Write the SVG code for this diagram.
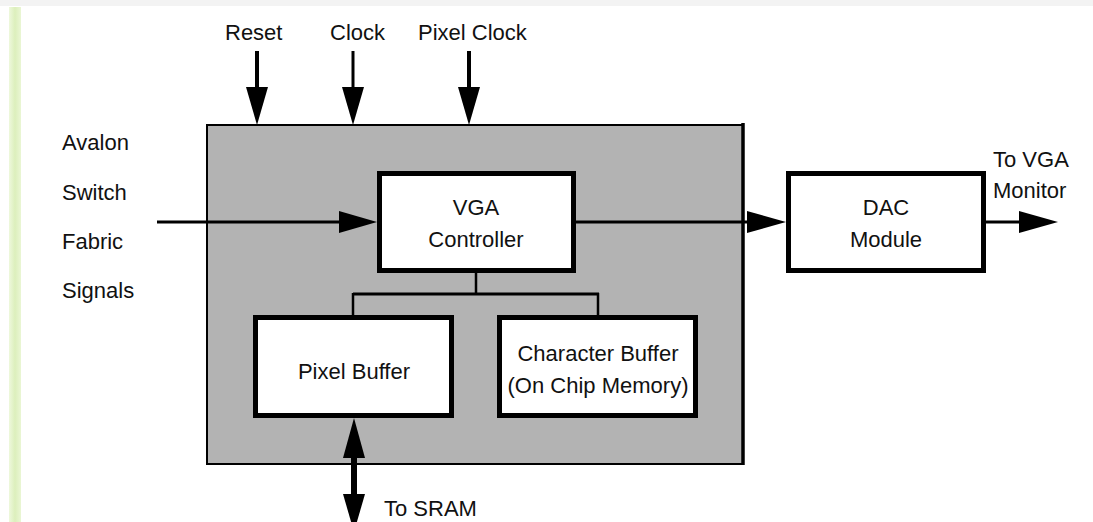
<svg xmlns="http://www.w3.org/2000/svg" width="1093" height="522" viewBox="0 0 1093 522">
<defs>
<style>
text{font-family:"Liberation Sans",Arial,sans-serif;font-size:22px;fill:#111}
.mid{text-anchor:middle}
.box{fill:#fff;stroke:#000;stroke-width:5}
.ln{stroke:#000;fill:none}
.head{fill:#000}
</style>
<linearGradient id="gbar" x1="0" y1="0" x2="1" y2="0">
<stop offset="0" stop-color="#eef8dc"/>
<stop offset="0.5" stop-color="#dcefbc"/>
<stop offset="1" stop-color="#eaf6d4"/>
</linearGradient>
</defs>
<rect x="0" y="0" width="1093" height="522" fill="#fff"/>
<rect x="0" y="0" width="1093" height="6" fill="#f3f3f3"/>
<rect x="9" y="7" width="12" height="515" fill="url(#gbar)"/>

<g id="container">
<rect x="207" y="125" width="536" height="339" fill="#b3b3b3" stroke="#000" stroke-width="2"/>
<line x1="743" y1="123" x2="743" y2="465" stroke="#000" stroke-width="3.5"/>
</g>

<g id="connectors">
<line class="ln" x1="257" y1="51" x2="257" y2="90" stroke-width="4"/>
<polygon class="head" points="246,87 268,87 257,125"/>
<line class="ln" x1="353" y1="51" x2="353" y2="90" stroke-width="3"/>
<polygon class="head" points="342,87 364,87 353,125"/>
<line class="ln" x1="469" y1="51" x2="469" y2="90" stroke-width="4"/>
<polygon class="head" points="458,87 480,87 469,125"/>

<line class="ln" x1="157" y1="222" x2="342" y2="222" stroke-width="3"/>
<polygon class="head" points="339,211 339,233 377,222"/>

<line class="ln" x1="576" y1="222" x2="750" y2="222" stroke-width="3"/>
<polygon class="head" points="747,211 747,233 786,222"/>

<line class="ln" x1="986" y1="222" x2="1022" y2="222" stroke-width="3"/>
<polygon class="head" points="1019,211 1019,233 1058,222"/>

<line class="ln" x1="476" y1="273" x2="476" y2="294" stroke-width="2.5"/>
<line class="ln" x1="353" y1="294" x2="599" y2="294" stroke-width="3"/>
<line class="ln" x1="353" y1="293" x2="353" y2="315" stroke-width="2.5"/>
<line class="ln" x1="598" y1="293" x2="598" y2="315" stroke-width="2.5"/>

<line class="ln" x1="354" y1="455" x2="354" y2="497" stroke-width="6"/>
<polygon class="head" points="343,458 365,458 354,418"/>
<polygon class="head" points="343,494 365,494 354,532"/>
</g>

<g id="labels">
<text x="225" y="40">Reset</text>
<text x="330" y="40" fill="#333">Clock</text>
<text x="418" y="40">Pixel Clock</text>
<text x="62" y="150">Avalon</text>
<text x="62" y="200">Switch</text>
<text x="62" y="249">Fabric</text>
<text x="62" y="298">Signals</text>
<text x="993" y="167">To VGA</text>
<text x="993" y="198">Monitor</text>
<text x="384" y="516">To SRAM</text>
</g>

<g id="vga-controller">
<rect class="box" x="379.5" y="173.5" width="194" height="97"/>
<text class="mid" x="476" y="215">VGA</text>
<text class="mid" x="476" y="247">Controller</text>
</g>

<g id="dac-module">
<rect class="box" x="788.5" y="173.5" width="195" height="97"/>
<text class="mid" x="886" y="215">DAC</text>
<text class="mid" x="886" y="247">Module</text>
</g>

<g id="pixel-buffer">
<rect class="box" x="255.5" y="317.5" width="196" height="98"/>
<text class="mid" x="354" y="379">Pixel Buffer</text>
</g>

<g id="character-buffer">
<rect class="box" x="499.5" y="317.5" width="196" height="98"/>
<text class="mid" x="598" y="361">Character Buffer</text>
<text class="mid" x="598" y="393">(On Chip Memory)</text>
</g>
</svg>
